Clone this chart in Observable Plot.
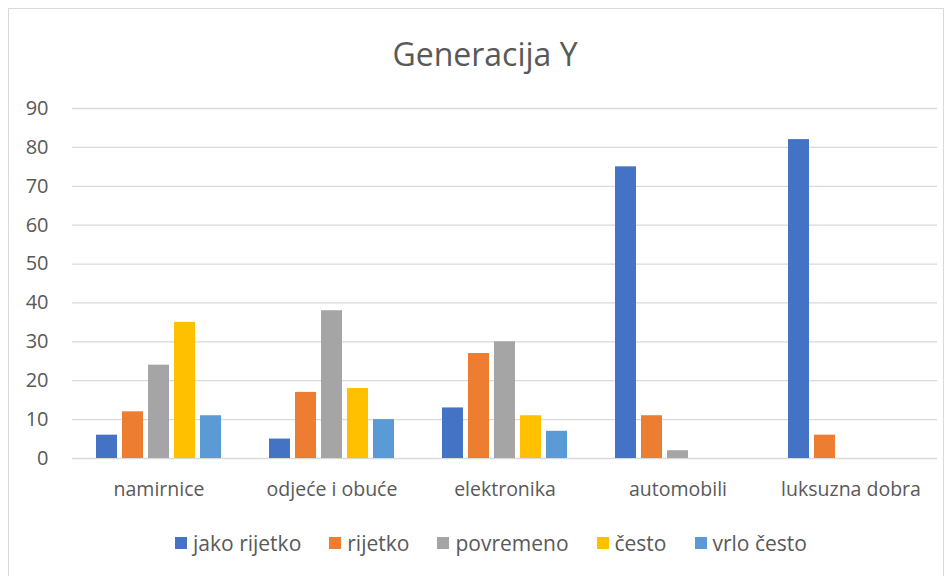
<!DOCTYPE html>
<html>
<head>
<meta charset="utf-8">
<script src="https://cdn.jsdelivr.net/npm/d3@7"></script>
<script src="https://cdn.jsdelivr.net/npm/@observablehq/plot@0.6"></script>
<style>
  html, body { margin: 0; padding: 0; background: #fff; }
  body { width: 952px; height: 576px; position: relative; overflow: hidden; font-family: "Open Sans", "Noto Sans", sans-serif; color: #595959; }
  #frame { position: absolute; left: 8px; top: 8px; width: 936px; height: 575px; border: 1px solid #d9d9d9; box-sizing: border-box; }
  #title { position: absolute; left: 0; width: 970px; top: 32px; text-align: center; font-size: 32px; line-height: 44px; color: #595959; }
  #chart { position: absolute; left: 0; top: 90px; }
  #legend { position: absolute; top: 528px; left: 0; width: 982px; display: flex; justify-content: center; gap: 28px; font-size: 21px; line-height: 30px; color: #595959; }
  .item { display: flex; align-items: center; gap: 6px; }
  .sw { width: 12px; height: 12px; display: inline-block; }
</style>
</head>
<body>
<div id="frame"></div>
<div id="title">Generacija Y</div>
<div id="chart"></div>
<div id="legend"></div>
<script>
const categories = ["namirnice", "odjeće i obuće", "elektronika", "automobili", "luksuzna dobra"];
const series = ["jako rijetko", "rijetko", "povremeno", "često", "vrlo često"];
const jakoRijetko = [6, 5, 13, 75, 82];
const rijetko = [12, 17, 27, 11, 6];
const povremeno = [24, 38, 30, 2, 0];
const cesto = [35, 18, 11, 0, 0];
const vrloCesto = [11, 10, 7, 0, 0];
const colors = ["#4472C4", "#ED7D31", "#A5A5A5", "#FFC000", "#5B9BD5"];
const yTicks = [0, 10, 20, 30, 40, 50, 60, 70, 80, 90];

const seriesValues = [jakoRijetko, rijetko, povremeno, cesto, vrloCesto];
const data = [];
categories.forEach((c, i) => {
  series.forEach((s, j) => {
    data.push({category: c, series: s, value: seriesValues[j][i]});
  });
});

const chart = Plot.plot({
  width: 952,
  height: 420,
  marginLeft: 72,
  marginRight: 15,
  marginTop: 18,
  marginBottom: 52,
  style: {fontFamily: "'Open Sans', 'Noto Sans', sans-serif", fontSize: "20px", color: "#595959", background: "transparent"},
  fx: {domain: categories, padding: 0, label: null},
  x: {domain: series, axis: null, paddingInner: 0.2, paddingOuter: 0.86},
  y: {domain: [0, 90], label: null},
  color: {domain: series, range: colors},
  marks: [
    Plot.gridY(yTicks, {stroke: "#d9d9d9", strokeOpacity: 1, strokeWidth: 1.3}),
    Plot.barY(data, {fx: "category", x: "series", y: "value", fill: "series"}),
    Plot.axisY(yTicks, {tickSize: 0, tickPadding: 24, label: null, fontSize: 20}),
    Plot.axisFx({anchor: "bottom", tickSize: 0, tickPadding: 24, label: null, fontSize: 19.5})
  ]
});
document.getElementById("chart").appendChild(chart);

const legend = document.getElementById("legend");
series.forEach((s, i) => {
  const it = document.createElement("div");
  it.className = "item";
  const sw = document.createElement("span");
  sw.className = "sw";
  sw.style.background = colors[i];
  const t = document.createElement("span");
  t.textContent = s;
  it.appendChild(sw);
  it.appendChild(t);
  legend.appendChild(it);
});
</script>
</body>
</html>
